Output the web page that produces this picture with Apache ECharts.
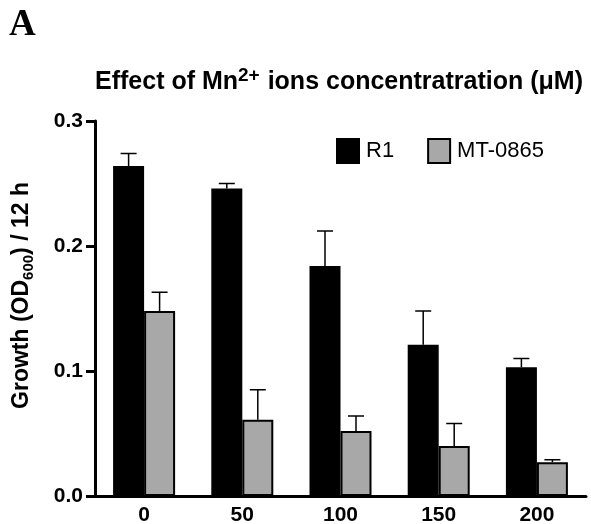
<!DOCTYPE html>
<html>
<head>
<meta charset="utf-8">
<script src="https://cdn.jsdelivr.net/npm/echarts@6/dist/echarts.min.js"></script>
<style>
  html, body { margin: 0; padding: 0; background: #fff; }
  #chart { width: 591px; height: 524px; }
</style>
</head>
<body>
<div id="chart"></div>
<script>
// Mn2+ concentration (uM)
const concentrations = ['0', '50', '100', '150', '200'];
// mean growth (OD600 / 12 h)
const r1Values = [0.264, 0.246, 0.184, 0.121, 0.103];
const mtValues = [0.148, 0.061, 0.052, 0.040, 0.027];
// upper end of the error bars
const r1ErrTop = [0.274, 0.250, 0.212, 0.148, 0.110];
const mtErrTop = [0.163, 0.085, 0.064, 0.058, 0.029];

const BAR_W = 31;
const FONT = 'Liberation Sans, Arial, Helvetica, sans-serif';

const chart = echarts.init(document.getElementById('chart'));

// error bar drawn as a custom series, shifted onto its own bar
function errorSeries(name, means, tops, offset) {
    return {
        type: 'custom',
        name: name + ' err',
        z: 1,
        silent: true,
        data: means.map((m, i) => [i, m, tops[i]]),
        renderItem: function (params, api) {
            const lo = api.coord([api.value(0), api.value(1)]);
            const hi = api.coord([api.value(0), api.value(2)]);
            const x = lo[0] + offset;
            const half = 8;
            const style = { stroke: '#000', lineWidth: 1.5, fill: null };
            return {
                type: 'group',
                children: [
                    { type: 'line', shape: { x1: x, y1: lo[1], x2: x, y2: hi[1] }, style: style },
                    { type: 'line', shape: { x1: x - half, y1: hi[1], x2: x + half, y2: hi[1] }, style: style }
                ]
            };
        }
    };
}

const option = {
    animation: false,
    backgroundColor: '#fff',
    textStyle: { fontFamily: FONT },
    title: {
        text: '{a|Effect of Mn}{sup|2+}{a| ions concentratration (μM)}',
        left: 90,
        top: 61,
        textStyle: {
            rich: {
                a: { fontFamily: FONT, fontWeight: 'bold', fontSize: 25, color: '#000', verticalAlign: 'bottom' },
                sup: { fontFamily: FONT, fontWeight: 'bold', fontSize: 19, color: '#000', verticalAlign: 'bottom', padding: [0, 1, 10, 0] }
            }
        }
    },
    graphic: [
        {
            type: 'text',
            left: 9,
            top: 7,
            style: { text: 'A', fontFamily: 'Liberation Serif, Times New Roman, serif', fontWeight: 'bold', fontSize: 37, fill: '#000' }
        }
    ],
    legend: {
        data: ['R1', 'MT-0865'],
        left: 331,
        top: 133,
        icon: 'rect',
        itemWidth: 22,
        itemHeight: 24,
        itemGap: 33,
        textStyle: { fontFamily: FONT, fontSize: 22, color: '#000', padding: [0, 0, 0, 2] }
    },
    grid: { left: 95, right: 5, top: 121, bottom: 28, containLabel: false, outerBoundsMode: 'none' },
    xAxis: {
        type: 'category',
        data: concentrations,
        axisLine: { lineStyle: { color: '#000', width: 3 } },
        axisTick: { show: false },
        axisLabel: { color: '#000', fontFamily: FONT, fontWeight: 'bold', fontSize: 21, margin: 9 }
    },
    yAxis: {
        type: 'value',
        min: 0,
        max: 0.3,
        interval: 0.1,
        name: '{a|Growth (OD}{sub|600}{a|) / 12 h}',
        nameLocation: 'middle',
        nameGap: 59,
        nameTextStyle: {
            padding: [0, 0, 0, 26],
            rich: {
                a: { fontFamily: FONT, fontWeight: 'bold', fontSize: 23, color: '#000', verticalAlign: 'top' },
                sub: { fontFamily: FONT, fontWeight: 'bold', fontSize: 15, color: '#000', verticalAlign: 'top', padding: [11, 0, 0, 0] }
            }
        },
        splitLine: { show: false },
        axisLine: { show: true, lineStyle: { color: '#000', width: 3 } },
        axisTick: { show: true, length: 9, lineStyle: { color: '#000', width: 3 } },
        axisLabel: {
            color: '#000', fontFamily: FONT, fontWeight: 'bold', fontSize: 21, margin: 12,
            formatter: v => v.toFixed(1)
        }
    },
    series: [
        {
            name: 'R1',
            type: 'bar',
            data: r1Values,
            barWidth: BAR_W,
            barGap: '0%',
            z: 2,
            itemStyle: { color: '#000', borderColor: '#000', borderWidth: 1.5 }
        },
        {
            name: 'MT-0865',
            type: 'bar',
            data: mtValues,
            barWidth: BAR_W,
            barGap: '0%',
            z: 2,
            itemStyle: { color: '#a8a8a8', borderColor: '#000', borderWidth: 2 }
        },
        errorSeries('R1', r1Values, r1ErrTop, -BAR_W / 2),
        errorSeries('MT-0865', mtValues, mtErrTop, BAR_W / 2)
    ]
};

chart.setOption(option);
</script>
</body>
</html>
